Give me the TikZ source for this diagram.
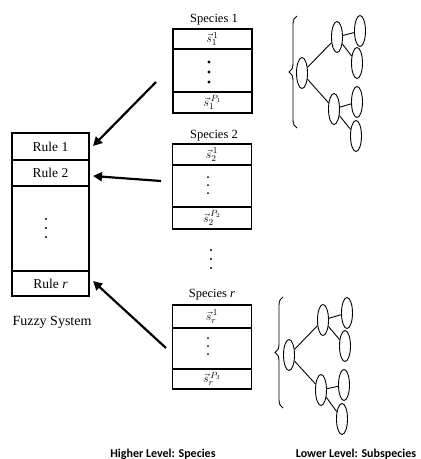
\documentclass[tikz,border=0pt]{standalone}
\usepackage{fontspec}
\setmainfont{Liberation Serif}
\newfontfamily\labfont{Carlito}
\usetikzlibrary{arrows.meta,decorations.pathreplacing,shapes.geometric}
\begin{document}
\begin{tikzpicture}[x=1pt,y=-1pt,
  frow/.style={draw,line width=1.1pt,minimum width=77pt,inner sep=0pt,outer sep=0pt,font=\fontsize{13.5}{14}\selectfont},
  srow/.style={draw,line width=1.1pt,minimum width=79pt,inner sep=0pt,outer sep=0pt,font=\fontsize{13}{13}\selectfont},
  stitle/.style={font=\fontsize{12.5}{13}\selectfont,inner sep=0pt},
  bigarrow/.style={line width=2.2pt,-{Triangle[length=9pt,width=9pt]}},
  sub/.style={draw,line width=0.9pt,ellipse,minimum width=11pt,minimum height=31pt,inner sep=0pt},
  link/.style={line width=0.9pt},
  dot/.style={circle,fill,inner sep=0pt,minimum size=#1},
  brace/.style={line width=0.9pt,decorate,decoration={brace,amplitude=8pt}},
  botlab/.style={font=\labfont\bfseries\fontsize{12}{13}\selectfont,inner sep=0pt}]
\useasboundingbox (0,0) rectangle (421,459);
% Fuzzy system
\node[frow,minimum height=27pt] (r1) at (50.5,146.5) {Rule 1};
\node[frow,minimum height=26pt] (r2) at (50.5,173) {Rule 2};
\node[frow,minimum height=85pt] (rd) at (50.5,228.5) {};
\node[frow,minimum height=25pt] (rr) at (50.5,283.5) {Rule \textit{r}};
\node[font=\fontsize{14}{15}\selectfont,inner sep=0pt] (fs) at (52,322) {Fuzzy System};
\foreach \yy in {219,228,237} \node[dot=2.2pt] at (46,\yy) {};
% Species 1
\node[stitle] (t1) at (214,20) {Species 1};
\node[srow,minimum height=20pt] (a1) at (212.5,39) {$\vec{s}_1^{\,1}$};
\node[srow,minimum height=43pt] (a2) at (212.5,70.5) {};
\node[srow,minimum height=21pt] (a3) at (212.5,102.5) {$\vec{s}_1^{\,P_1}$};
\foreach \yy in {62,72,82} \node[dot=3.4pt] at (209,\yy) {};
% Species 2
\node[stitle] (t2) at (214,136) {Species 2};
\node[srow,minimum height=21pt] (b1) at (212,154.5) {$\vec{s}_2^{\,1}$};
\node[srow,minimum height=42pt] (b2) at (212,186) {};
\node[srow,minimum height=22pt] (b3) at (212,218) {$\vec{s}_2^{\,P_2}$};
\foreach \yy in {177,185,193} \node[dot=2pt] at (208,\yy) {};
% between
\foreach \yy in {250,259,268} \node[dot=2.4pt] at (211,\yy) {};
% Species r
\node[stitle] (t3) at (212,295) {Species \textit{r}};
\node[srow,minimum height=23pt] (c1) at (212,316.5) {$\vec{s}_r^{\,1}$};
\node[srow,minimum height=41pt] (c2) at (212,348.5) {};
\node[srow,minimum height=20pt] (c3) at (212,379) {$\vec{s}_r^{\,P_3}$};
\foreach \yy in {338,346,354} \node[dot=2pt] at (208,\yy) {};
% arrows
\coordinate (e1) at (156,82);
\coordinate (e2) at (161,181);
\coordinate (e3) at (166,348);
\coordinate (h1) at (93,146);
\coordinate (h2) at (93,176);
\coordinate (h3) at (93,281);
\draw[bigarrow] (e1) -- (h1);
\draw[bigarrow] (e2) -- (h2);
\draw[bigarrow] (e3) -- (h3);
% Tree 1
\draw[brace] (297,128) -- (297,16);
\node[sub] (p0) at (302,73) {};
\node[sub] (p1) at (337,37) {};
\node[sub] (p2) at (334,109) {};
\node[sub] (p3) at (360,31) {};
\node[sub] (p4) at (357,63) {};
\node[sub] (p5) at (357,102) {};
\node[sub] (p6) at (356,136) {};
\draw[link] (p0) -- (p1);
\draw[link] (p0) -- (p2);
\draw[link] (p1) -- (p3);
\draw[link] (p1) -- (p4);
\draw[link] (p2) -- (p5);
\draw[link] (p2) -- (p6);
% Tree r
\draw[brace] (283,408) -- (283,297);
\node[sub] (q0) at (289,355) {};
\node[sub] (q1) at (323,320) {};
\node[sub] (q2) at (321,390) {};
\node[sub] (q3) at (347,313) {};
\node[sub] (q4) at (345,346) {};
\node[sub] (q5) at (344,385) {};
\node[sub] (q6) at (342,419) {};
\draw[link] (q0) -- (q1);
\draw[link] (q0) -- (q2);
\draw[link] (q1) -- (q3);
\draw[link] (q1) -- (q4);
\draw[link] (q2) -- (q5);
\draw[link] (q2) -- (q6);
% bottom labels
\node[botlab] (hl) at (163,454) {Higher Level: Species};
\node[botlab] (ll) at (356,454) {Lower Level: Subspecies};
\end{tikzpicture}
\end{document}
